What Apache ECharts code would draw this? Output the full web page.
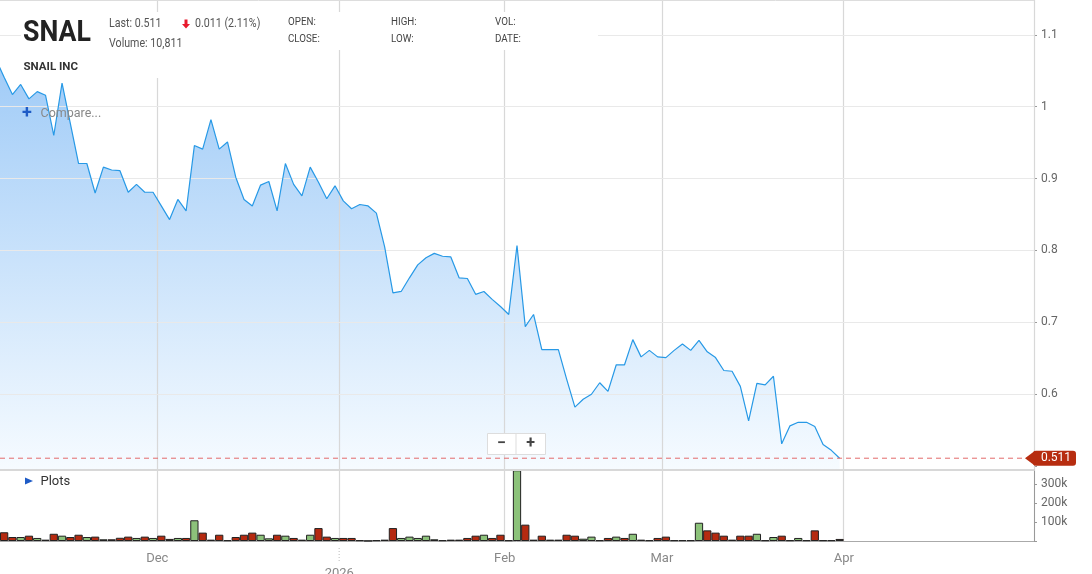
<!DOCTYPE html>
<html>
<head>
<meta charset="utf-8">
<title>SNAL</title>
<script src="https://cdn.jsdelivr.net/npm/echarts@6/dist/echarts.min.js"></script>
<style>
  html, body { margin: 0; padding: 0; background: #fff; }
  #chart { width: 1092px; height: 574px; }
</style>
</head>
<body>
<div id="chart"></div>
<script>
// trading days on the axis (Oct 31 sits just off the left edge, Apr/May are empty room)
const oct25 = [31]
const nov25 = [3,4,5,6,7,10,11,12,13,14,17,18,19,20,21,24,25,26,28]
const dec25 = [1,2,3,4,5,8,9,10,11,12,15,16,17,18,19,22,23,24,26,29,30,31]
const jan26 = [2,5,6,7,8,9,12,13,14,15,16,20,21,22,23,26,27,28,29,30]
const feb26 = [2,3,4,5,6,9,10,11,12,13,17,18,19,20,23,24,25,26,27]
const mar26 = [2,3,4,5,6,9,10,11,12,13,16,17,18,19,20,23,24,25,26,27,30,31]
const apr26 = [1,2,6,7,8,9,10,13,14,15,16,17,20,21,22,23,24,27,28,29,30]
const may26 = [1,4]

// closing prices, Oct 31 .. Mar 31
const prices = [
  1.066,
  1.041,1.017,1.031,1.011,1.021,1.016,0.960,1.033,0.977,0.921,0.921,0.880,0.916,0.912,0.911,0.881,0.892,0.881,0.881,
  0.862,0.843,0.871,0.855,0.946,0.941,0.982,0.941,0.951,0.902,0.871,0.862,0.891,0.896,0.855,0.921,0.892,0.876,0.916,0.895,0.872,0.890,
  0.869,0.858,0.864,0.862,0.852,0.805,0.741,0.743,0.762,0.780,0.790,0.796,0.792,0.791,0.762,0.761,0.739,0.743,0.732,0.722,
  0.711,0.807,0.694,0.711,0.662,0.662,0.662,0.621,0.582,0.593,0.600,0.616,0.604,0.641,0.641,0.676,0.652,0.661,0.652,
  0.651,0.661,0.670,0.661,0.675,0.659,0.651,0.633,0.632,0.611,0.563,0.615,0.613,0.625,0.531,0.556,0.561,0.561,0.555,0.530,0.522,0.511
]

// daily volume, same days
const volumes = [
  null,
  46000,21000,21000,28000,16000,7000,38000,28000,21000,33000,21000,23000,9000,9000,17000,23000,16000,23000,16000,
  28000,11000,16000,16000,109000,44000,7000,33000,4000,21000,33000,44000,33000,14000,33000,28000,16000,7000,33000,68000,23000,16000,
  16000,16000,4000,1000,4000,7000,68000,16000,23000,16000,28000,9000,4000,7000,7000,16000,28000,33000,16000,33000,
  4000,372000,86000,7000,28000,7000,7000,33000,28000,12000,23000,4000,16000,23000,16000,38000,7000,4000,16000,
  23000,4000,4000,4000,96000,56000,44000,28000,7000,28000,28000,38000,4000,21000,28000,4000,16000,4000,56000,4000,4000,10811
]

// 1 = up day (green bar), 0 = down day (red bar)
const volUp = [
  0,
  0,0,1,0,1,0,0,1,0,0,1,0,1,0,0,0,1,0,1,
  0,0,1,0,1,0,1,0,1,0,0,0,1,1,0,1,0,0,1,0,0,1,
  0,0,1,0,0,0,0,1,1,1,1,1,0,0,0,0,0,1,0,0,
  0,1,0,1,0,1,1,0,0,1,1,1,0,1,0,1,0,1,0,
  0,1,1,0,1,0,0,0,0,0,0,1,0,1,0,1,1,0,0,0,0,0
]

const priceTicks = [0.6, 0.7, 0.8, 0.9, 1, 1.1]
const monthKeys = ['2025-12', '2026-01', '2026-02', '2026-03', '2026-04']
const monthNames = ['Dec', '2026', 'Feb', 'Mar', 'Apr']

function pad(n) { return n < 10 ? '0' + n : '' + n }
function days(y, m, list) { return list.map(d => y + '-' + pad(m) + '-' + pad(d)) }

const dates = [].concat(
  days(2025, 10, oct25), days(2025, 11, nov25), days(2025, 12, dec25),
  days(2026, 1, jan26), days(2026, 2, feb26), days(2026, 3, mar26),
  days(2026, 4, apr26), days(2026, 5, may26)
)

function isMonthStart(idx) {
  if (idx === 0) return false
  const key = dates[idx].slice(0, 7)
  return monthKeys.indexOf(key) >= 0 && dates[idx - 1].slice(0, 7) !== key
}

const chart = echarts.init(document.getElementById('chart'))
const upColor = '#8cc27a'
const downColor = '#b52a10'
const band = 1042.27 / dates.length

chart.setOption({
  animation: false,
  textStyle: { fontFamily: 'Roboto' },
  grid: [
    { left: -8.27, right: 58, top: 0, bottom: 104.5, outerBoundsMode: 'none', containLabel: false },
    { left: -8.27, right: 58, top: 469.5, bottom: 33, outerBoundsMode: 'none', containLabel: false }
  ],
  xAxis: [
    {
      type: 'category', gridIndex: 0, data: dates, boundaryGap: true, z: 3,
      axisLine: { show: true, lineStyle: { color: '#d8d8d8', width: 2 } },
      axisTick: { show: false },
      axisLabel: { show: false },
      splitLine: { show: true, interval: isMonthStart, lineStyle: { color: '#d8d8d8', width: 1.2 } }
    },
    {
      type: 'category', gridIndex: 1, data: dates, boundaryGap: true,
      axisLine: { show: true, lineStyle: { color: '#aaa', width: 1 } },
      axisTick: { show: false },
      axisLabel: {
        interval: isMonthStart,
        color: '#888', fontSize: 13, margin: 10, lineHeight: 15, padding: [0, 8, 0, 0],
        formatter: function (value) {
          const name = monthNames[monthKeys.indexOf(value.slice(0, 7))]
          return /^\d{4}$/.test(name) ? '\n' + name : name
        }
      },
      splitLine: { show: true, interval: isMonthStart, lineStyle: { color: '#d8d8d8', width: 1.2 } }
    }
  ],
  yAxis: [
    {
      type: 'value', gridIndex: 0, position: 'right', min: 0.4953, max: 1.1485, splitNumber: 5,
      axisLine: { show: true, lineStyle: { color: '#999' } },
      axisTick: { show: true, length: 3, lineStyle: { color: '#999' } },
      axisLabel: {
        margin: 7, color: '#666', fontSize: 12, showMinLabel: false, showMaxLabel: false,
        formatter: function (v) {
          const r = Math.round(v * 10) / 10
          return Math.abs(v - r) < 1e-6 && priceTicks.indexOf(r) >= 0 ? String(r) : ''
        }
      },
      splitLine: { show: false }
    },
    {
      type: 'value', gridIndex: 1, position: 'right', min: 0, max: 376000, interval: 100000,
      axisLine: { show: true, lineStyle: { color: '#999' } },
      axisTick: { show: true, length: 3, lineStyle: { color: '#999' } },
      axisLabel: {
        margin: 7, color: '#666', fontSize: 12, showMaxLabel: false,
        formatter: v => (v > 0 && v <= 300000) ? v / 1000 + 'k' : ''
      },
      splitLine: { show: false }
    }
  ],
  series: [
    {
      name: 'area', type: 'line', xAxisIndex: 0, yAxisIndex: 0, data: prices,
      symbol: 'none', silent: true, z: 1,
      lineStyle: { width: 0 },
      areaStyle: {
        origin: 'start', opacity: 1,
        color: {
          type: 'linear', x: 0, y: 0, x2: 0, y2: 469, global: true,
          colorStops: [{ offset: 0, color: '#93c4f6' }, { offset: 1, color: '#f6fbff' }]
        }
      },
      markLine: {
        silent: true, symbol: ['none', 'none'], z: 3,
        label: { show: false },
        lineStyle: { type: 'solid', color: '#e9e9e9', width: 1.2 },
        data: priceTicks.map(v => ({ yAxis: v }))
      }
    },
    {
      name: 'SNAL', type: 'line', xAxisIndex: 0, yAxisIndex: 0, data: prices,
      symbol: 'none', z: 5,
      lineStyle: { color: '#2799e6', width: 1.2 }
    },
    {
      name: 'Volume', type: 'bar', xAxisIndex: 1, yAxisIndex: 1, barWidth: '100%', barCategoryGap: '0%',
      data: volumes.map((v, i) => v == null ? null : {
        value: v,
        itemStyle: { color: volUp[i] ? upColor : downColor, borderColor: '#222', borderWidth: 1 }
      })
    }
  ]
})

// header, overlays, last-price line and tag
const last = prices[prices.length - 1]
const prev = prices[prices.length - 2]
const change = (prev - last).toFixed(3)
const pct = ((prev - last) / prev * 100).toFixed(2)
const lastVol = volumes[volumes.length - 1]
const tagY = chart.convertToPixel({ yAxisIndex: 0 }, last)
const janX = chart.convertToPixel({ xAxisIndex: 1 }, '2026-01-02') - band / 2

function txt(x, y, text, font, fill, sx, align) {
  return {
    type: 'text', x: x, y: y, scaleX: sx || 1, z: 10,
    style: { text: text, font: font, fill: fill, align: align || 'left', verticalAlign: 'middle' }
  }
}

chart.setOption({
  graphic: { elements: [
    { type: 'line', z: 10, shape: { x1: 0, y1: 0.5, x2: 1034, y2: 0.5 }, style: { stroke: '#ddd', lineWidth: 1 } },
    { type: 'line', z: 6, shape: { x1: 0, y1: tagY, x2: 1034, y2: tagY }, style: { stroke: '#e36b6b', lineWidth: 1, lineDash: [5, 4] } },
    { type: 'rect', z: 9, shape: { x: 21, y: 12, width: 577, height: 38 }, style: { fill: '#fff' } },
    { type: 'rect', z: 9, shape: { x: 21, y: 50, width: 180, height: 28 }, style: { fill: '#fff' } },
    txt(23, 33, 'SNAL', 'bold 30px Roboto', '#222', 0.89),
    txt(109, 24, 'Last: ' + last, '13px Roboto', '#555', 0.82),
    { type: 'polygon', z: 10, shape: { points: [[184.5, 19.5], [187.5, 19.5], [187.5, 24], [190, 24], [186, 28.5], [182, 24], [184.5, 24]] }, style: { fill: '#e8192c' } },
    txt(195, 24, change + ' (' + pct + '%)', '13px Roboto', '#555', 0.82),
    txt(109, 43.5, 'Volume: ' + lastVol.toLocaleString('en-US'), '13px Roboto', '#555', 0.82),
    txt(288, 22.5, 'OPEN:', '11.5px Roboto', '#444', 0.85),
    txt(288, 39.5, 'CLOSE:', '11.5px Roboto', '#444', 0.85),
    txt(391, 22.5, 'HIGH:', '11.5px Roboto', '#444', 0.85),
    txt(391, 39.5, 'LOW:', '11.5px Roboto', '#444', 0.85),
    txt(495, 22.5, 'VOL:', '11.5px Roboto', '#444', 0.85),
    txt(495, 39.5, 'DATE:', '11.5px Roboto', '#444', 0.85),
    txt(23.5, 67, 'SNAIL INC', 'bold 11.5px Roboto', '#333'),
    txt(22, 113, '+', 'bold 18px Roboto', '#1e5bc6'),
    txt(40.5, 114, 'Compare...', '12.5px Roboto', '#888'),
    { type: 'polygon', z: 10, shape: { points: [[25, 477.5], [33, 481], [25, 484.5]] }, style: { fill: '#1e5bc6' } },
    txt(40.5, 482, 'Plots', '13px Roboto', '#333'),
    { type: 'rect', z: 10, shape: { x: 487.5, y: 433.5, width: 58, height: 21 }, style: { fill: '#fff', stroke: '#ddd', lineWidth: 1 } },
    { type: 'line', z: 10, shape: { x1: 516, y1: 434, x2: 516, y2: 454 }, style: { stroke: '#ddd', lineWidth: 1 } },
    txt(501.5, 444, '\u2212', 'bold 16px Roboto', '#444', 1, 'center'),
    txt(530.5, 444, '+', 'bold 16px Roboto', '#444', 1, 'center'),
    { type: 'polygon', z: 10, shape: { points: [[1025, tagY], [1035, tagY - 7.5], [1035, tagY + 7.5]] }, style: { fill: '#b72d10' } },
    { type: 'rect', z: 10, shape: { x: 1033, y: tagY - 7.5, width: 43, height: 15, r: 3 }, style: { fill: '#b72d10' } },
    txt(1056, tagY, String(last), '12px Roboto', '#fff', 1, 'center'),
    { type: 'line', z: 10, shape: { x1: janX, y1: 548, x2: janX, y2: 563 }, style: { stroke: '#bbb', lineWidth: 1, lineDash: [1, 2] } }
  ] }
})
</script>
</body>
</html>
